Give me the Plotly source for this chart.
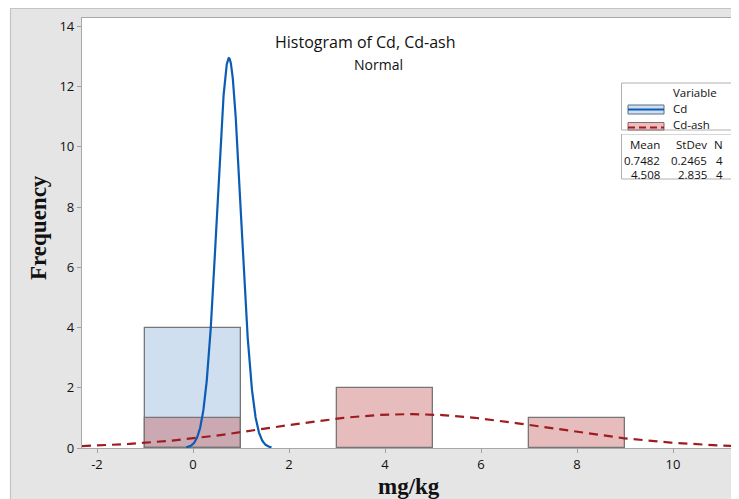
import numpy as np
import plotly.graph_objects as go

# ---------------- data ----------------
bin_centers = [0, 2, 4, 6, 8]
bin_width = 2
cd_counts = [4, 0, 0, 0, 0]
cdash_counts = [1, 0, 2, 0, 1]

series_names = ["Cd", "Cd-ash"]
means = [0.7482, 4.508]
stdevs = [0.2465, 2.835]
ns = [4, 4]

x_ticks = [-2, 0, 2, 4, 6, 8, 10]
y_ticks = [0, 2, 4, 6, 8, 10, 12, 14]

title_text = "Histogram of Cd, Cd-ash"
subtitle_text = "Normal"
x_title = "mg/kg"
y_title = "Frequency"

# ---------------- layout helpers (window pixel coords; page body has 8px margin) ----------------
OFF = 8
WIN_W, WIN_H = 739, 499
W, H = WIN_W - OFF, WIN_H - OFF
L, R, T, B = 82, 738, 18, 448
XR = [-2.3125, 11.354]
YR = [0, 14.28]


def px(x):
    return (x - L) / (R - L)


def py(y):
    return (B - y) / (B - T)


TICK_FONT = dict(family="Open Sans, Noto Sans, sans-serif", size=13, color="#111111")
BLUE = "#0b5cb5"
RED = "#9e1b1f"
CD_FILL = "rgb(208,223,240)"
ASH_FILL = "rgba(196,87,87,0.4)"
OUTLINE = "rgb(118,118,118)"

fig = go.Figure()

# histogram bars
cd_x = [c for c, n in zip(bin_centers, cd_counts) if n > 0]
cd_y = [n for n in cd_counts if n > 0]
ash_x = [c for c, n in zip(bin_centers, cdash_counts) if n > 0]
ash_y = [n for n in cdash_counts if n > 0]

fig.add_trace(go.Bar(x=cd_x, y=cd_y, width=[bin_width] * len(cd_x),
                     marker=dict(color=CD_FILL, line=dict(color=OUTLINE, width=1.3)),
                     showlegend=False, hoverinfo="skip"))
fig.add_trace(go.Bar(x=ash_x, y=ash_y, width=[bin_width] * len(ash_x),
                     marker=dict(color=ASH_FILL, line=dict(color=OUTLINE, width=1.3)),
                     showlegend=False, hoverinfo="skip"))


# fitted normal curves (from the stated mean / stdev / N)
def normal_curve(m, s, n, lo, hi):
    xs = np.linspace(lo, hi, 400)
    ys = n * bin_width * np.exp(-0.5 * ((xs - m) / s) ** 2) / (s * np.sqrt(2 * np.pi))
    return xs, ys


xs, ys = normal_curve(means[0], stdevs[0], ns[0], means[0] - 3.6 * stdevs[0], means[0] + 3.6 * stdevs[0])
fig.add_trace(go.Scatter(x=xs, y=ys, mode="lines", line=dict(color=BLUE, width=2.2),
                         showlegend=False, hoverinfo="skip"))
xs, ys = normal_curve(means[1], stdevs[1], ns[1], XR[0], XR[1])
fig.add_trace(go.Scatter(x=xs, y=ys, mode="lines", line=dict(color=RED, width=2.2, dash="9px,6px"),
                         showlegend=False, hoverinfo="skip"))

shapes = []
annotations = []

# white strip left of the grey panel, and panel border
shapes.append(dict(type="rect", xref="paper", yref="paper", x0=px(OFF - 2), x1=px(10), y0=py(WIN_H + 5), y1=py(0),
                   fillcolor="white", line=dict(width=0), layer="below"))
shapes.append(dict(type="line", xref="paper", yref="paper", x0=px(10.5), x1=px(10.5), y0=py(WIN_H + 2), y1=py(8.5),
                   line=dict(color="#c4c4c4", width=1.2)))
shapes.append(dict(type="line", xref="paper", yref="paper", x0=px(10), x1=px(WIN_W + 2), y0=py(8.5), y1=py(8.5),
                   line=dict(color="#c4c4c4", width=1.2)))

# legend box 1
LX0, LX1 = 621.5, 735.5
shapes.append(dict(type="rect", xref="paper", yref="paper", x0=px(LX0), x1=px(LX1), y0=py(130), y1=py(83),
                   fillcolor="white", line=dict(color="#b0b0b0", width=1)))
# Cd symbol
shapes.append(dict(type="rect", xref="paper", yref="paper", x0=px(628), x1=px(664), y0=py(114), y1=py(105),
                   fillcolor=CD_FILL, line=dict(color="#5a6e86", width=1)))
shapes.append(dict(type="line", xref="paper", yref="paper", x0=px(628), x1=px(664), y0=py(109.5), y1=py(109.5),
                   line=dict(color=BLUE, width=2)))
# Cd-ash symbol (clipped by box)
shapes.append(dict(type="rect", xref="paper", yref="paper", x0=px(628), x1=px(664), y0=py(130), y1=py(122.5),
                   fillcolor="rgb(234,190,190)", line=dict(color="#8a6a6a", width=1)))
shapes.append(dict(type="line", xref="paper", yref="paper", x0=px(628), x1=px(664), y0=py(127.5), y1=py(127.5),
                   line=dict(color=RED, width=2.2, dash="7px,4px")))
# legend box 2 (table)
shapes.append(dict(type="rect", xref="paper", yref="paper", x0=px(LX0), x1=px(LX1), y0=py(179), y1=py(134),
                   fillcolor="white", line=dict(color="#b0b0b0", width=1)))

LEG_FONT = dict(family="Open Sans, Noto Sans, sans-serif", size=11.5, color="#111111")


def txt(x, y, s, anchor="left", font=LEG_FONT):
    annotations.append(dict(xref="paper", yref="paper", x=px(x), y=py(y), text=s, showarrow=False,
                            xanchor=anchor, yanchor="middle", font=font, borderpad=0))


txt(672, 93, "Variable")
txt(672, 109, series_names[0])
txt(672, 125, series_names[1])
# table
txt(661, 145, "Mean", "right")
txt(708, 145, "StDev", "right")
txt(724, 145, "N", "right")
for i, row_y in enumerate([160, 175]):
    mtxt = f"{means[i]:.4f}" if means[i] < 1 else f"{means[i]:.3f}"
    stxt = f"{stdevs[i]:.4f}" if stdevs[i] < 1 else f"{stdevs[i]:.3f}"
    txt(661, row_y, mtxt, "right")
    txt(708, row_y, stxt, "right")
    txt(724, row_y, str(ns[i]), "right")

# white covers to emulate clipping of the legend boxes
for (y0, y1) in [(130.6, 133.4), (179.6, 190)]:
    annotations.append(dict(xref="paper", yref="paper", x=px(LX0 - 1), y=py(y0), xanchor="left",
                            yanchor="top", text=" ", showarrow=False, bgcolor="white",
                            width=LX1 - LX0 + 2, height=y1 - y0, borderpad=0, borderwidth=0,
                            font=dict(size=1)))

# titles
annotations.append(dict(xref="paper", yref="paper", x=px(365), y=py(42), text=title_text, showarrow=False,
                        xanchor="center", yanchor="middle", borderpad=0,
                        font=dict(family="Open Sans, Noto Sans, sans-serif", size=16, color="#111111")))
annotations.append(dict(xref="paper", yref="paper", x=px(378), y=py(64), text=subtitle_text, showarrow=False,
                        xanchor="center", yanchor="middle", borderpad=0,
                        font=dict(family="Open Sans, Noto Sans, sans-serif", size=14, color="#111111")))
annotations.append(dict(xref="paper", yref="paper", x=px(409), y=py(486), text=f"<b>{x_title}</b>",
                        showarrow=False, xanchor="center", yanchor="middle",
                        font=dict(family="Liberation Serif, Times New Roman, serif", size=23, color="#111111")))
annotations.append(dict(xref="paper", yref="paper", x=px(38), y=py(228), text=f"<b>{y_title}</b>",
                        showarrow=False, xanchor="center", yanchor="middle", textangle=-90,
                        font=dict(family="Liberation Serif, Times New Roman, serif", size=23, color="#111111")))

fig.update_layout(
    width=W, height=H,
    margin=dict(l=L - OFF, r=WIN_W - R, t=T - OFF, b=WIN_H - B, pad=0),
    paper_bgcolor="#e5e5e5",
    plot_bgcolor="white",
    barmode="overlay",
    bargap=0,
    showlegend=False,
    shapes=shapes,
    annotations=annotations,
    xaxis=dict(range=XR, tickmode="array", tickvals=x_ticks, ticktext=[str(t) for t in x_ticks],
               showgrid=False, zeroline=False, showline=True, linecolor="#a8a8a8", linewidth=1.2,
               mirror=True, ticks="outside", ticklen=4, tickcolor="#a0a0a0", tickfont=TICK_FONT),
    yaxis=dict(range=YR, tickmode="array", tickvals=y_ticks, ticktext=[str(t) for t in y_ticks],
               showgrid=False, zeroline=False, showline=True, linecolor="#a8a8a8", linewidth=1.2,
               mirror=True, ticks="outside", ticklen=4, tickcolor="#a0a0a0", tickfont=TICK_FONT),
)

fig.write_html("out.html")
